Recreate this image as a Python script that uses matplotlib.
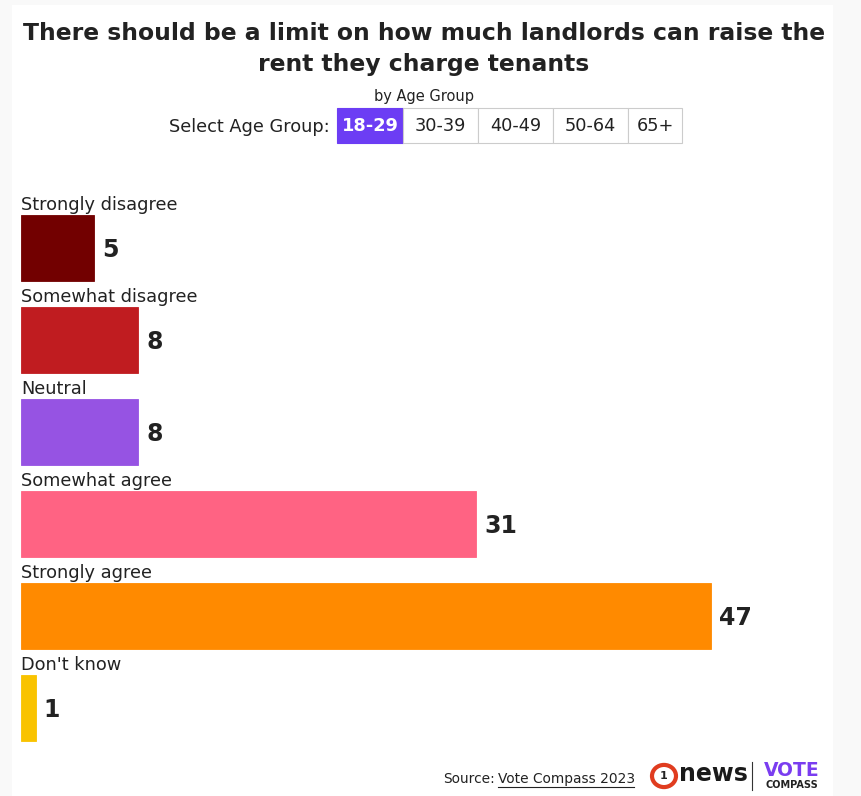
import matplotlib.pyplot as plt
from matplotlib.patches import Rectangle

# data
categories = ['Strongly disagree', 'Somewhat disagree', 'Neutral',
              'Somewhat agree', 'Strongly agree', "Don't know"]
values = [5, 8, 8, 31, 47, 1]
colors = ['#720000', '#c01c20', '#9653e3', '#ff6383', '#ff8a00', '#f9c300']
age_groups = ['18-29', '30-39', '40-49', '50-64', '65+']

plt.rcParams['font.family'] = ['DejaVu Sans']
W, H = 862, 796
fig = plt.figure(figsize=(W / 100, H / 100), dpi=100)
fig.patch.set_facecolor('#f9f9f9')

def px(x, y):
    # pixel (from top-left) -> figure fraction
    return x / W, 1 - y / H

# white card
card = Rectangle(px(12, 796), (833 - 12) / W, (796 - 5) / H, transform=fig.transFigure,
                 facecolor='white', edgecolor='none', zorder=-10)
fig.patches.append(card)

txt = '#222222'
fig.text(*px(424, 33), 'There should be a limit on how much landlords can raise the',
         ha='center', va='center', fontsize=16.9, fontweight='bold', color=txt)
fig.text(*px(424, 65), 'rent they charge tenants',
         ha='center', va='center', fontsize=16.9, fontweight='bold', color=txt)
fig.text(*px(424, 96), 'by Age Group', ha='center', va='center', fontsize=10.5, color=txt)
fig.text(*px(330, 127), 'Select Age Group:', ha='right', va='center', fontsize=12.8, color=txt)

# age group selector buttons
edges = [337, 403, 478, 553, 628, 682]
for i, g in enumerate(age_groups):
    x0, x1 = edges[i], edges[i + 1]
    sel = i == 0
    r = Rectangle(px(x0, 143), (x1 - x0) / W, 35 / H, transform=fig.transFigure,
                  facecolor='#6c3df4' if sel else 'white',
                  edgecolor='#6c3df4' if sel else '#cccccc', linewidth=0.8, zorder=1)
    fig.patches.append(r)
    fig.text(*px((x0 + x1) / 2, 126), g, ha='center', va='center', fontsize=12.8,
             fontweight='bold' if sel else 'normal', color='white' if sel else txt)

# bar chart: x 0..50 over px 21..755, y -0.5..5.5 over px 202..754
ax = fig.add_axes([21 / W, 1 - 754 / H, (755 - 21) / W, (754 - 202) / H])
ax.set_xlim(0, 50)
ax.set_ylim(5.5, -0.5)
ax.axis('off')
bh = 66 / 92
ypos = list(range(len(categories)))
ax.barh(ypos, values, height=bh, color=colors, edgecolor=colors, linewidth=0.6)
for y, v, c in zip(ypos, values, categories):
    ax.text(0, y - bh / 2 - 0.01, c, ha='left', va='bottom', fontsize=12.8, color=txt)
    ax.text(v + 0.55, y + 0.02, str(v), ha='left', va='center', fontsize=17,
            fontweight='bold', color=txt)

# footer
fig.text(*px(443, 779), 'Source:', ha='left', va='center', fontsize=9.9, color=txt)
fig.text(*px(498, 779), 'Vote Compass 2023', ha='left', va='center', fontsize=9.9, color=txt)
fig.lines.append(plt.Line2D([498 / W, 634 / W], [1 - 787 / H] * 2, transform=fig.transFigure,
                            color=txt, linewidth=0.8))
# logos as text
circ = plt.Circle(px(664, 776), 12 / W, transform=fig.transFigure, facecolor='white',
                  edgecolor='#e03c1f', linewidth=3)
fig.patches.append(circ)
fig.text(*px(664, 776), '1', ha='center', va='center', fontsize=8, fontweight='bold', color='#222')
fig.text(*px(679, 774), 'news', ha='left', va='center', fontsize=17, fontweight='bold', color='#1a1a1a')
fig.lines.append(plt.Line2D([752 / W] * 2, [1 - 762 / H, 1 - 790 / H], transform=fig.transFigure,
                            color='#333', linewidth=0.8))
fig.text(*px(792, 770), 'VOTE', ha='center', va='center', fontsize=13.5, fontweight='bold', color='#7a3df0')
fig.text(*px(792, 785), 'COMPASS', ha='center', va='center', fontsize=7, fontweight='bold', color='#222')

fig.savefig('out.png', dpi=100, facecolor=fig.get_facecolor())
